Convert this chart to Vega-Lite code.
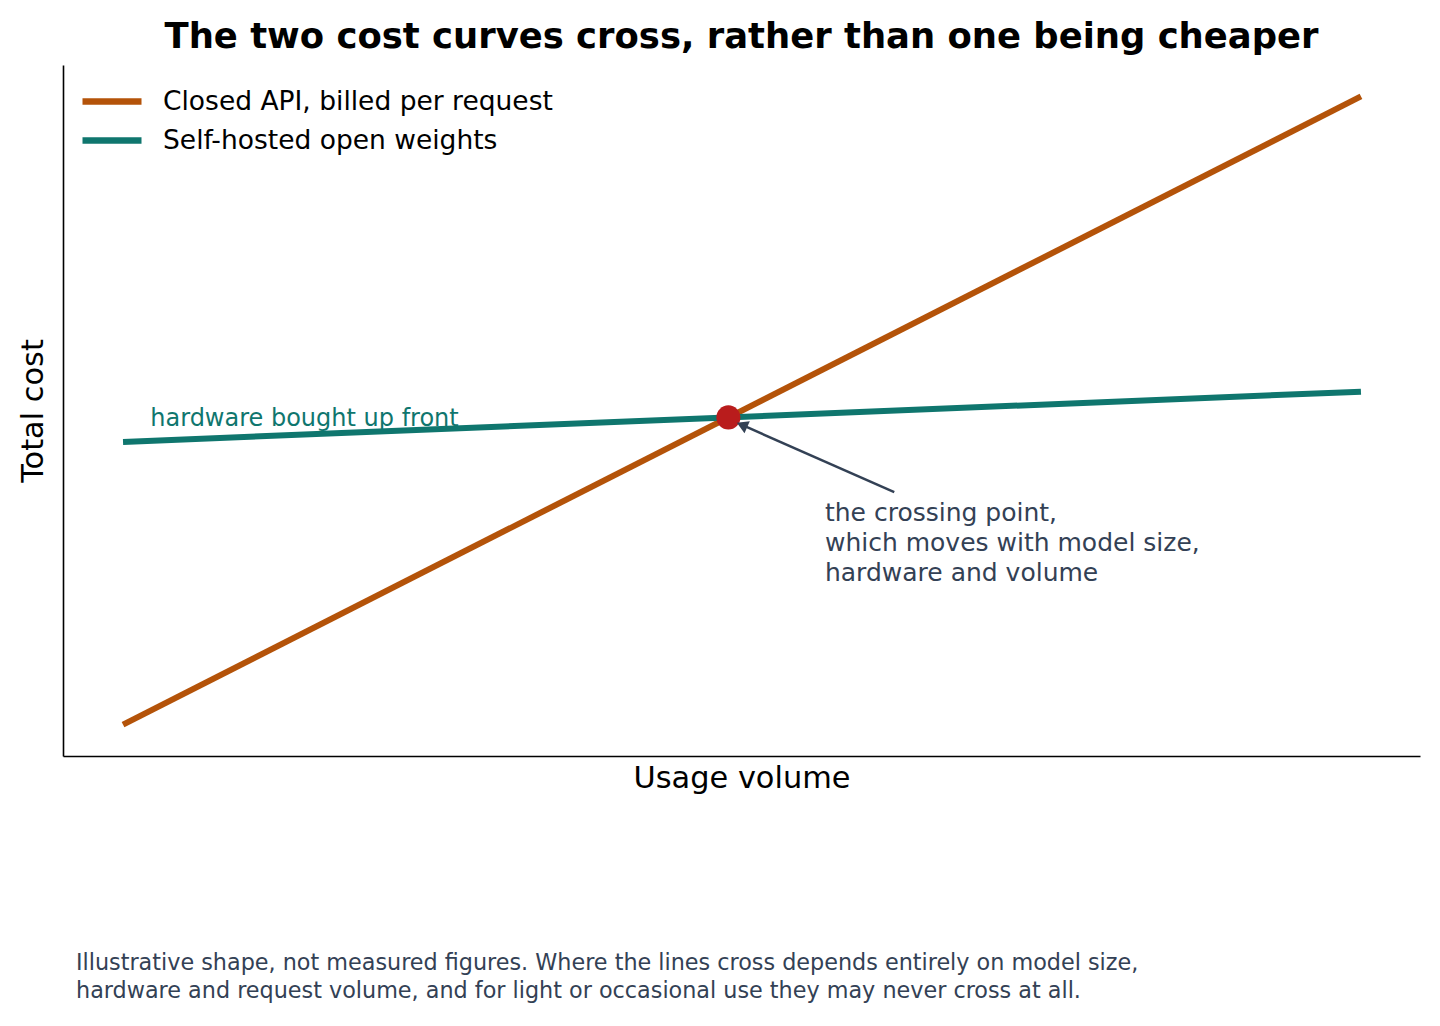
{
  "$schema": "https://vega.github.io/schema/vega-lite/v6.json",
  "autosize": {"type": "none"},
  "width": 1357,
  "height": 691,
  "padding": {"left": 63, "top": 65, "right": 20, "bottom": 270},
  "background": "white",
  "config": {
    "font": "DejaVu Sans",
    "view": {"stroke": null},
    "axis": {
      "grid": false,
      "ticks": false,
      "labels": false,
      "domainColor": "black",
      "domainWidth": 1.6,
      "titleFont": "DejaVu Sans",
      "titleFontWeight": "normal",
      "titleFontSize": 30.4,
      "titleColor": "black"
    }
  },
  "title": {
    "text": "The two cost curves cross, rather than one being cheaper",
    "font": "DejaVu Sans",
    "fontSize": 35.4,
    "fontWeight": "bold",
    "color": "black",
    "anchor": "middle",
    "offset": 10
  },
  "datasets": {
    "lines": [
      {"series": "Closed API, billed per request", "usage": 0, "cost": 0},
      {"series": "Closed API, billed per request", "usage": 10, "cost": 100},
      {"series": "Self-hosted open weights", "usage": 0, "cost": 45},
      {"series": "Self-hosted open weights", "usage": 10, "cost": 53}
    ],
    "crossing": [{"usage": 4.89, "cost": 48.9}],
    "arrow": [
      {"part": "start", "usage": 6.23, "cost": 37.0},
      {"part": "end", "usage": 5.0, "cost": 47.7}
    ],
    "notes": [
      {"kind": "label", "usage": 0.22, "cost": 47.6, "text": "hardware bought up front"},
      {"kind": "callout", "usage": 5.67, "cost": 35.6, "text": "the crossing point,\nwhich moves with model size,\nhardware and volume"},
      {"kind": "footnote", "usage": -0.38, "cost": -36.2, "text": "Illustrative shape, not measured figures. Where the lines cross depends entirely on model size,\nhardware and request volume, and for light or occasional use they may never cross at all."}
    ]
  },
  "encoding": {
    "x": {
      "field": "usage",
      "type": "quantitative",
      "scale": {"domain": [-0.485, 10.477], "nice": false, "zero": false},
      "axis": {"title": "Usage volume", "titlePadding": 7}
    },
    "y": {
      "field": "cost",
      "type": "quantitative",
      "scale": {"domain": [-5, 105], "nice": false, "zero": false},
      "axis": {"title": "Total cost", "titlePadding": 15}
    }
  },
  "layer": [
    {
      "data": {"name": "lines"},
      "mark": {"type": "line", "strokeWidth": 6, "strokeCap": "butt"},
      "encoding": {
        "color": {
          "field": "series",
          "type": "nominal",
          "scale": {
            "domain": ["Closed API, billed per request", "Self-hosted open weights"],
            "range": ["#b45309", "#0f766e"]
          },
          "legend": {
            "title": null,
            "orient": "none",
            "legendX": 16,
            "legendY": 17,
            "symbolType": "stroke",
            "symbolSize": 3481,
            "symbolStrokeWidth": 6.5,
            "labelFontSize": 26.5,
            "labelColor": "black",
            "labelFont": "DejaVu Sans",
            "labelOffset": 18,
            "labelLimit": 600,
            "clipHeight": 39,
            "rowPadding": 0
          }
        }
      }
    },
    {
      "data": {"name": "crossing"},
      "mark": {"type": "point", "filled": true, "color": "#b91c1c", "size": 580, "opacity": 1}
    },
    {
      "data": {"name": "arrow"},
      "mark": {"type": "line", "color": "#334155", "strokeWidth": 2.5},
      "encoding": {"order": {"field": "part"}}
    },
    {
      "data": {"name": "arrow"},
      "transform": [{"filter": "datum.part == 'end'"}],
      "mark": {"type": "point", "shape": "triangle-up", "angle": 294, "filled": true, "color": "#334155", "size": 170, "opacity": 1}
    },
    {
      "data": {"name": "notes"},
      "transform": [{"filter": "datum.kind == 'label'"}],
      "mark": {"type": "text", "align": "left", "baseline": "alphabetic", "fontSize": 24, "color": "#0f766e"},
      "encoding": {"text": {"field": "text"}}
    },
    {
      "data": {"name": "notes"},
      "transform": [{"filter": "datum.kind == 'callout'"}],
      "mark": {"type": "text", "align": "left", "baseline": "top", "fontSize": 25, "lineHeight": 30, "lineBreak": "\n", "color": "#334155"},
      "encoding": {"text": {"field": "text"}}
    },
    {
      "data": {"name": "notes"},
      "transform": [{"filter": "datum.kind == 'footnote'"}],
      "mark": {"type": "text", "align": "left", "baseline": "top", "fontSize": 22.3, "lineHeight": 28, "lineBreak": "\n", "color": "#334155"},
      "encoding": {"text": {"field": "text"}}
    }
  ]
}
